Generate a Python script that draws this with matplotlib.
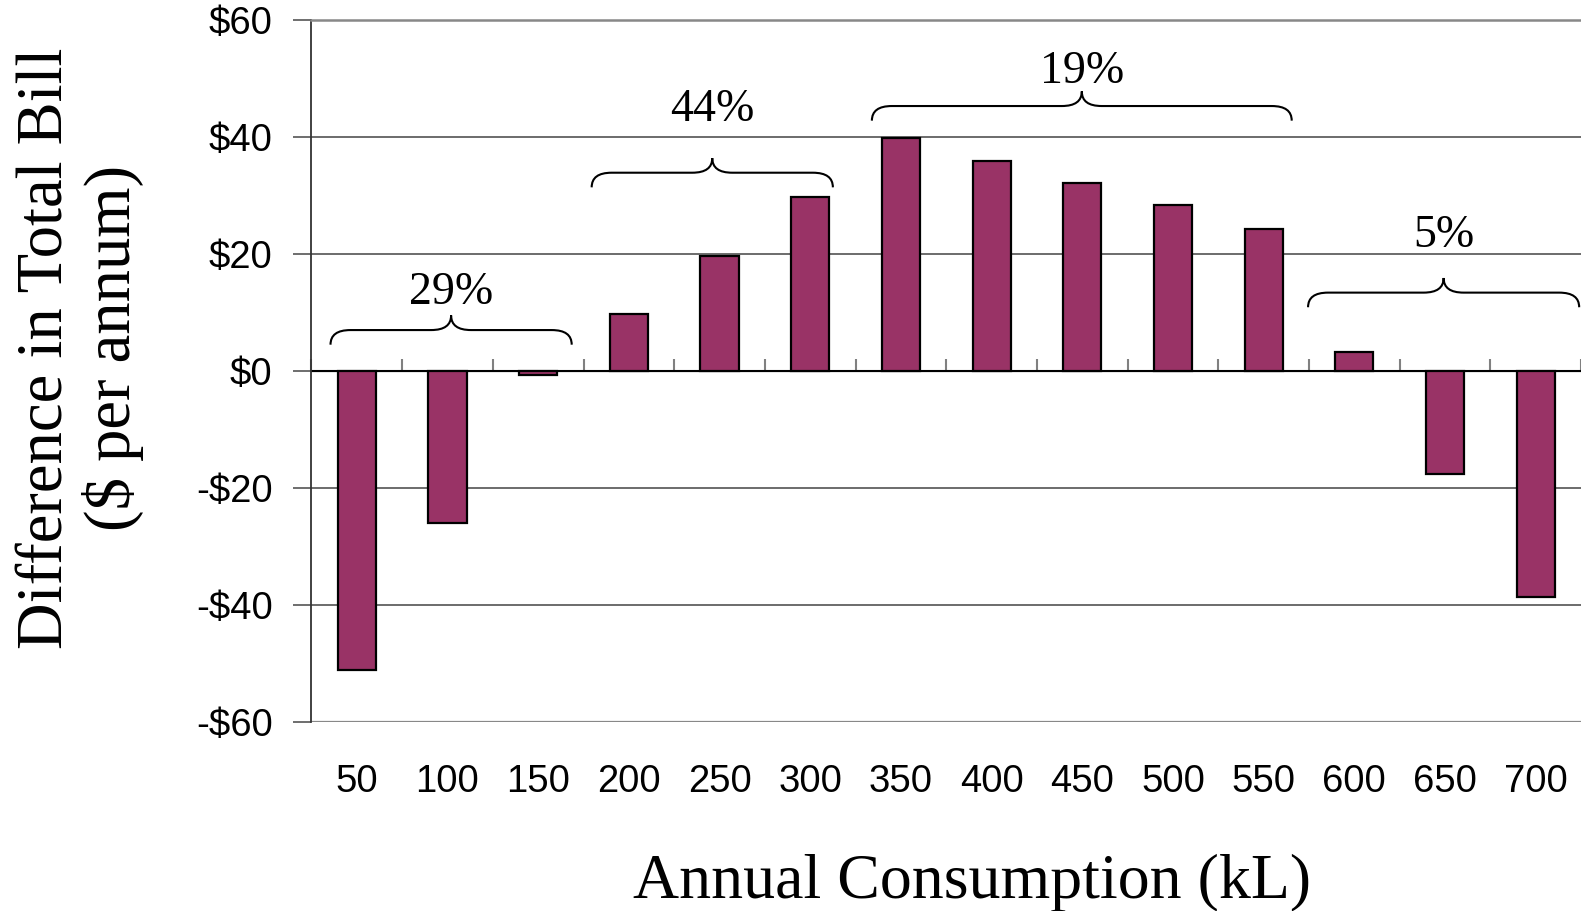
import matplotlib
matplotlib.use("Agg")
import matplotlib.pyplot as plt
from matplotlib.path import Path
from matplotlib.patches import PathPatch
import numpy as np

# data
consumption = [50, 100, 150, 200, 250, 300, 350, 400, 450, 500, 550, 600, 650, 700]
difference = [-51.2, -25.9, -0.7, 9.7, 19.7, 29.8, 39.8, 35.9, 32.2, 28.3, 24.3, 3.3, -17.6, -38.6]
yticks = [-60, -40, -20, 0, 20, 40, 60]

# share labels, the span of each brace (in category positions) and label height
share_labels = ["29%", "44%", "19%", "5%"]
brace_x0 = [-0.29, 2.59, 5.68, 10.49]
brace_x1 = [2.37, 5.25, 10.31, 13.48]
brace_y = [4.5, 31.4, 42.8, 10.9]
label_y = [13.3, 44.6, 51.2, 23.1]

bar_col = "#993366"
serif = "Liberation Serif"
sans = "Liberation Sans"

fig = plt.figure(figsize=(15.81, 9.11), dpi=100)
ax = fig.add_axes([0.197, 0.2075, 0.803, 0.7705])

x = np.arange(len(consumption))
ax.bar(x, difference, width=0.42, color=bar_col, edgecolor="black", linewidth=1.6, zorder=3)

ax.set_xlim(-0.5, len(consumption) - 0.5)
ax.set_ylim(-60, 60)
ax.set_yticks(yticks)
ax.set_yticklabels([("-$%d" % -v) if v < 0 else ("$%d" % v) for v in yticks],
                   fontname=sans, fontsize=27.5)
for v in [-40, -20, 20, 40]:
    ax.axhline(v, color="#444444", linewidth=1.1, zorder=0)
ax.axhline(-60, color="#888888", linewidth=1.6, zorder=0)
ax.axhline(0, color="black", linewidth=1.5, zorder=2)
ax.tick_params(axis="y", length=13, color="#555555", pad=15, width=1.2)

ax.set_xticks(x)
ax.set_xticklabels([str(c) for c in consumption], fontname=sans, fontsize=27.5)
ax.tick_params(axis="x", length=0, pad=30)

for s in ["right", "bottom"]:
    ax.spines[s].set_visible(False)
ax.spines["top"].set_color("#888888")
ax.spines["top"].set_linewidth(1.8)
ax.spines["left"].set_linewidth(1.3)
ax.spines["left"].set_color("#333333")

# zero axis with tick marks between categories
sec = ax.secondary_xaxis(0.5)
sec.set_xticks(np.arange(len(consumption) + 1) - 0.5)
sec.set_xticklabels([])
sec.tick_params(axis="x", length=9, color="#808080", width=1.5)
sec.spines["bottom"].set_visible(False)


def brace(x0, x1, y, h=5.0, r=0.22):
    xm = (x0 + x1) / 2
    yl = y + h * 0.5
    yc = y + h
    verts = [(x0, y), (x0, yl), (x0 + r, yl),
             (xm - r, yl), (xm, yl), (xm, yc),
             (xm, yl), (xm + r, yl),
             (x1 - r, yl), (x1, yl), (x1, y)]
    codes = [Path.MOVETO, Path.CURVE3, Path.CURVE3,
             Path.LINETO, Path.CURVE3, Path.CURVE3,
             Path.CURVE3, Path.CURVE3,
             Path.LINETO, Path.CURVE3, Path.CURVE3]
    ax.add_patch(PathPatch(Path(verts, codes), fill=False, lw=1.5, color="black",
                           clip_on=False, zorder=4))
    return xm


for lab, a, b, y, ty in zip(share_labels, brace_x0, brace_x1, brace_y, label_y):
    xm = brace(a, b, y)
    ax.text(xm, ty, lab, ha="center", va="center", fontname=serif, fontsize=33)

fig.text(0.051, 0.618, "Difference in Total Bill\n($ per annum)", rotation=90,
         ha="center", va="center", fontname=serif, fontsize=46.5, linespacing=1.12)
fig.text(0.615, 0.031, "Annual Consumption (kL)", ha="center", va="center",
         fontname=serif, fontsize=46)

fig.savefig("out.png", dpi=100)
